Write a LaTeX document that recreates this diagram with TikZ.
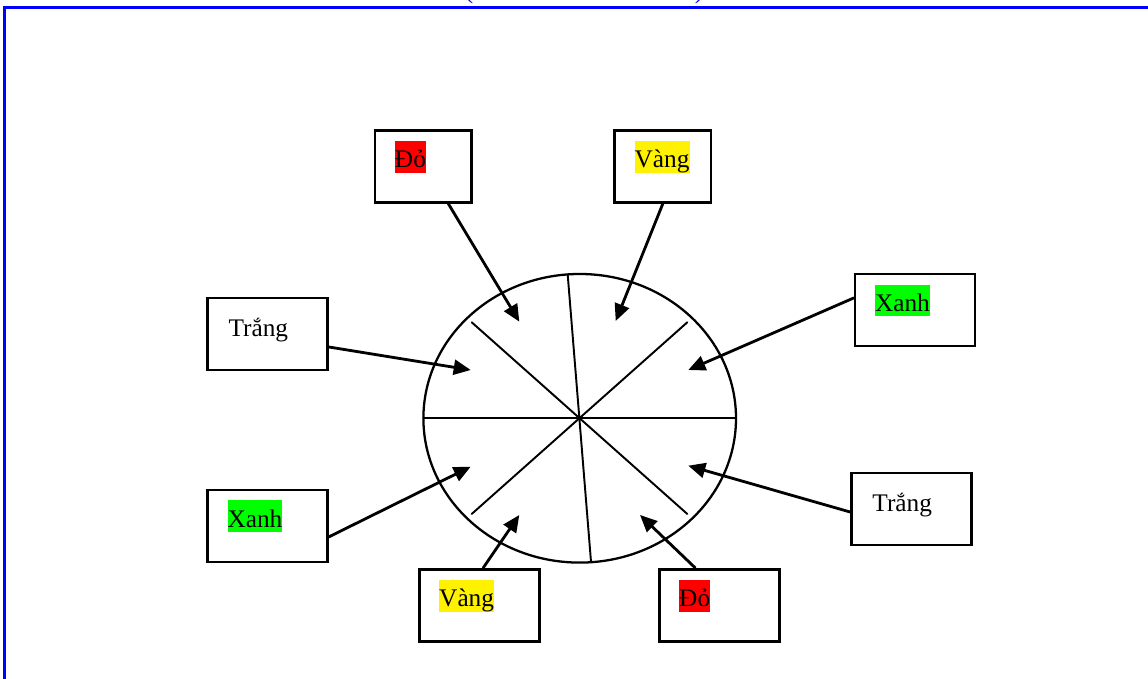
\documentclass[tikz,border=0pt]{standalone}
\usepackage{fontspec}
\setmainfont{Liberation Serif}
\usetikzlibrary{arrows.meta}

\begin{document}
\begin{tikzpicture}
		[line cap=round,
		%Styles
		box/.style={draw,line width=1.5pt,minimum width=2.4cm,minimum height=1.44cm,inner sep=0pt},
		narrow box/.style={box,minimum width=1.93cm},
		tag/.style={anchor=north west,inner sep=0pt,text height=15.2pt,text depth=2.9pt,font=\fontsize{14.4}{17}\selectfont},
		spoke/.style={line width=1.1pt},
		pointer/.style={line width=1.6pt,-{Triangle[length=0.34cm,width=0.3cm]}}
		]
		
		%Colors
		\colorlet{framecolor}{blue}
		
		\useasboundingbox (0,0) rectangle (22.96,13.58);
		\clip (0,0) rectangle (22.96,13.58);
		
		%Frame
		\draw[framecolor,line width=1.3pt,line cap=butt] (0.09,-1) -- (0.09,13.43) -- (24,13.43);
		\node[framecolor,anchor=base,font=\fontsize{14.4}{17}\selectfont] (lparen) at (9.38,13.61) {(};
		\node[framecolor,anchor=base,font=\fontsize{14.4}{17}\selectfont] (rparen) at (13.98,13.61) {)};
		
		%The wheel
		\coordinate (hub) at (11.594,5.214);
		\draw[line width=1.3pt] (hub) ellipse [x radius=3.126cm, y radius=2.886cm];
		\draw[spoke] (8.468,5.214) -- (14.72,5.214);
		\draw[spoke] (11.354,8.086) -- (11.82,2.346);
		\draw[spoke] (9.434,7.134) -- (13.746,3.3);
		\draw[spoke] (13.746,7.134) -- (9.434,3.3);
		
		%The boxes
		\node[narrow box] (do1) at (8.464,10.256) {};
		\node[narrow box] (vang1) at (13.258,10.256) {};
		\node[box] (xanh1) at (18.3,7.38) {};
		\node[box] (trang1) at (5.35,6.9) {};
		\node[box] (xanh2) at (5.35,3.062) {};
		\node[box] (trang2) at (18.228,3.4) {};
		\node[box] (vang2) at (9.584,1.476) {};
		\node[box] (do2) at (14.384,1.476) {};
		
		\node[tag,fill=red] (do1text) at ([shift={(0.42,-0.23)}]do1.north west) {Đỏ};
		\node[tag,fill=yellow] (vang1text) at ([shift={(0.42,-0.23)}]vang1.north west) {Vàng};
		\node[tag,fill=green] (xanh1text) at ([shift={(0.42,-0.23)}]xanh1.north west) {Xanh};
		\node[tag] (trang1text) at ([shift={(0.44,-0.25)}]trang1.north west) {Trắng};
		\node[tag,fill=green] (xanh2text) at ([shift={(0.42,-0.23)}]xanh2.north west) {Xanh};
		\node[tag] (trang2text) at ([shift={(0.44,-0.25)}]trang2.north west) {Trắng};
		\node[tag,fill=yellow] (vang2text) at ([shift={(0.42,-0.23)}]vang2.north west) {Vàng};
		\node[tag,fill=red] (do2text) at ([shift={(0.42,-0.23)}]do2.north west) {Đỏ};
		
		%Arrow tips
		\coordinate (pdo1) at (10.386,7.146);
		\coordinate (pvang1) at (12.314,7.16);
		\coordinate (pxanh1) at (13.766,6.18);
		\coordinate (ptrang1) at (9.414,6.18);
		\coordinate (pxanh2) at (9.414,4.246);
		\coordinate (ptrang2) at (13.766,4.266);
		\coordinate (pvang2) at (10.386,3.28);
		\coordinate (pdo2) at (12.8,3.28);
		
		\path[pointer]
			([xshift=0.5cm]do1.south) edge (pdo1)
			(vang1.south) edge (pvang1)
			([yshift=0.24cm]xanh1.west) edge (pxanh1)
			([yshift=-0.26cm]trang1.east) edge (ptrang1)
			([yshift=-0.22cm]xanh2.east) edge (pxanh2)
			([yshift=-0.06cm]trang2.west) edge (ptrang2)
			([xshift=0.08cm]vang2.north) edge (pvang2)
			([xshift=-0.48cm]do2.north) edge (pdo2);
	\end{tikzpicture}
\end{document}
